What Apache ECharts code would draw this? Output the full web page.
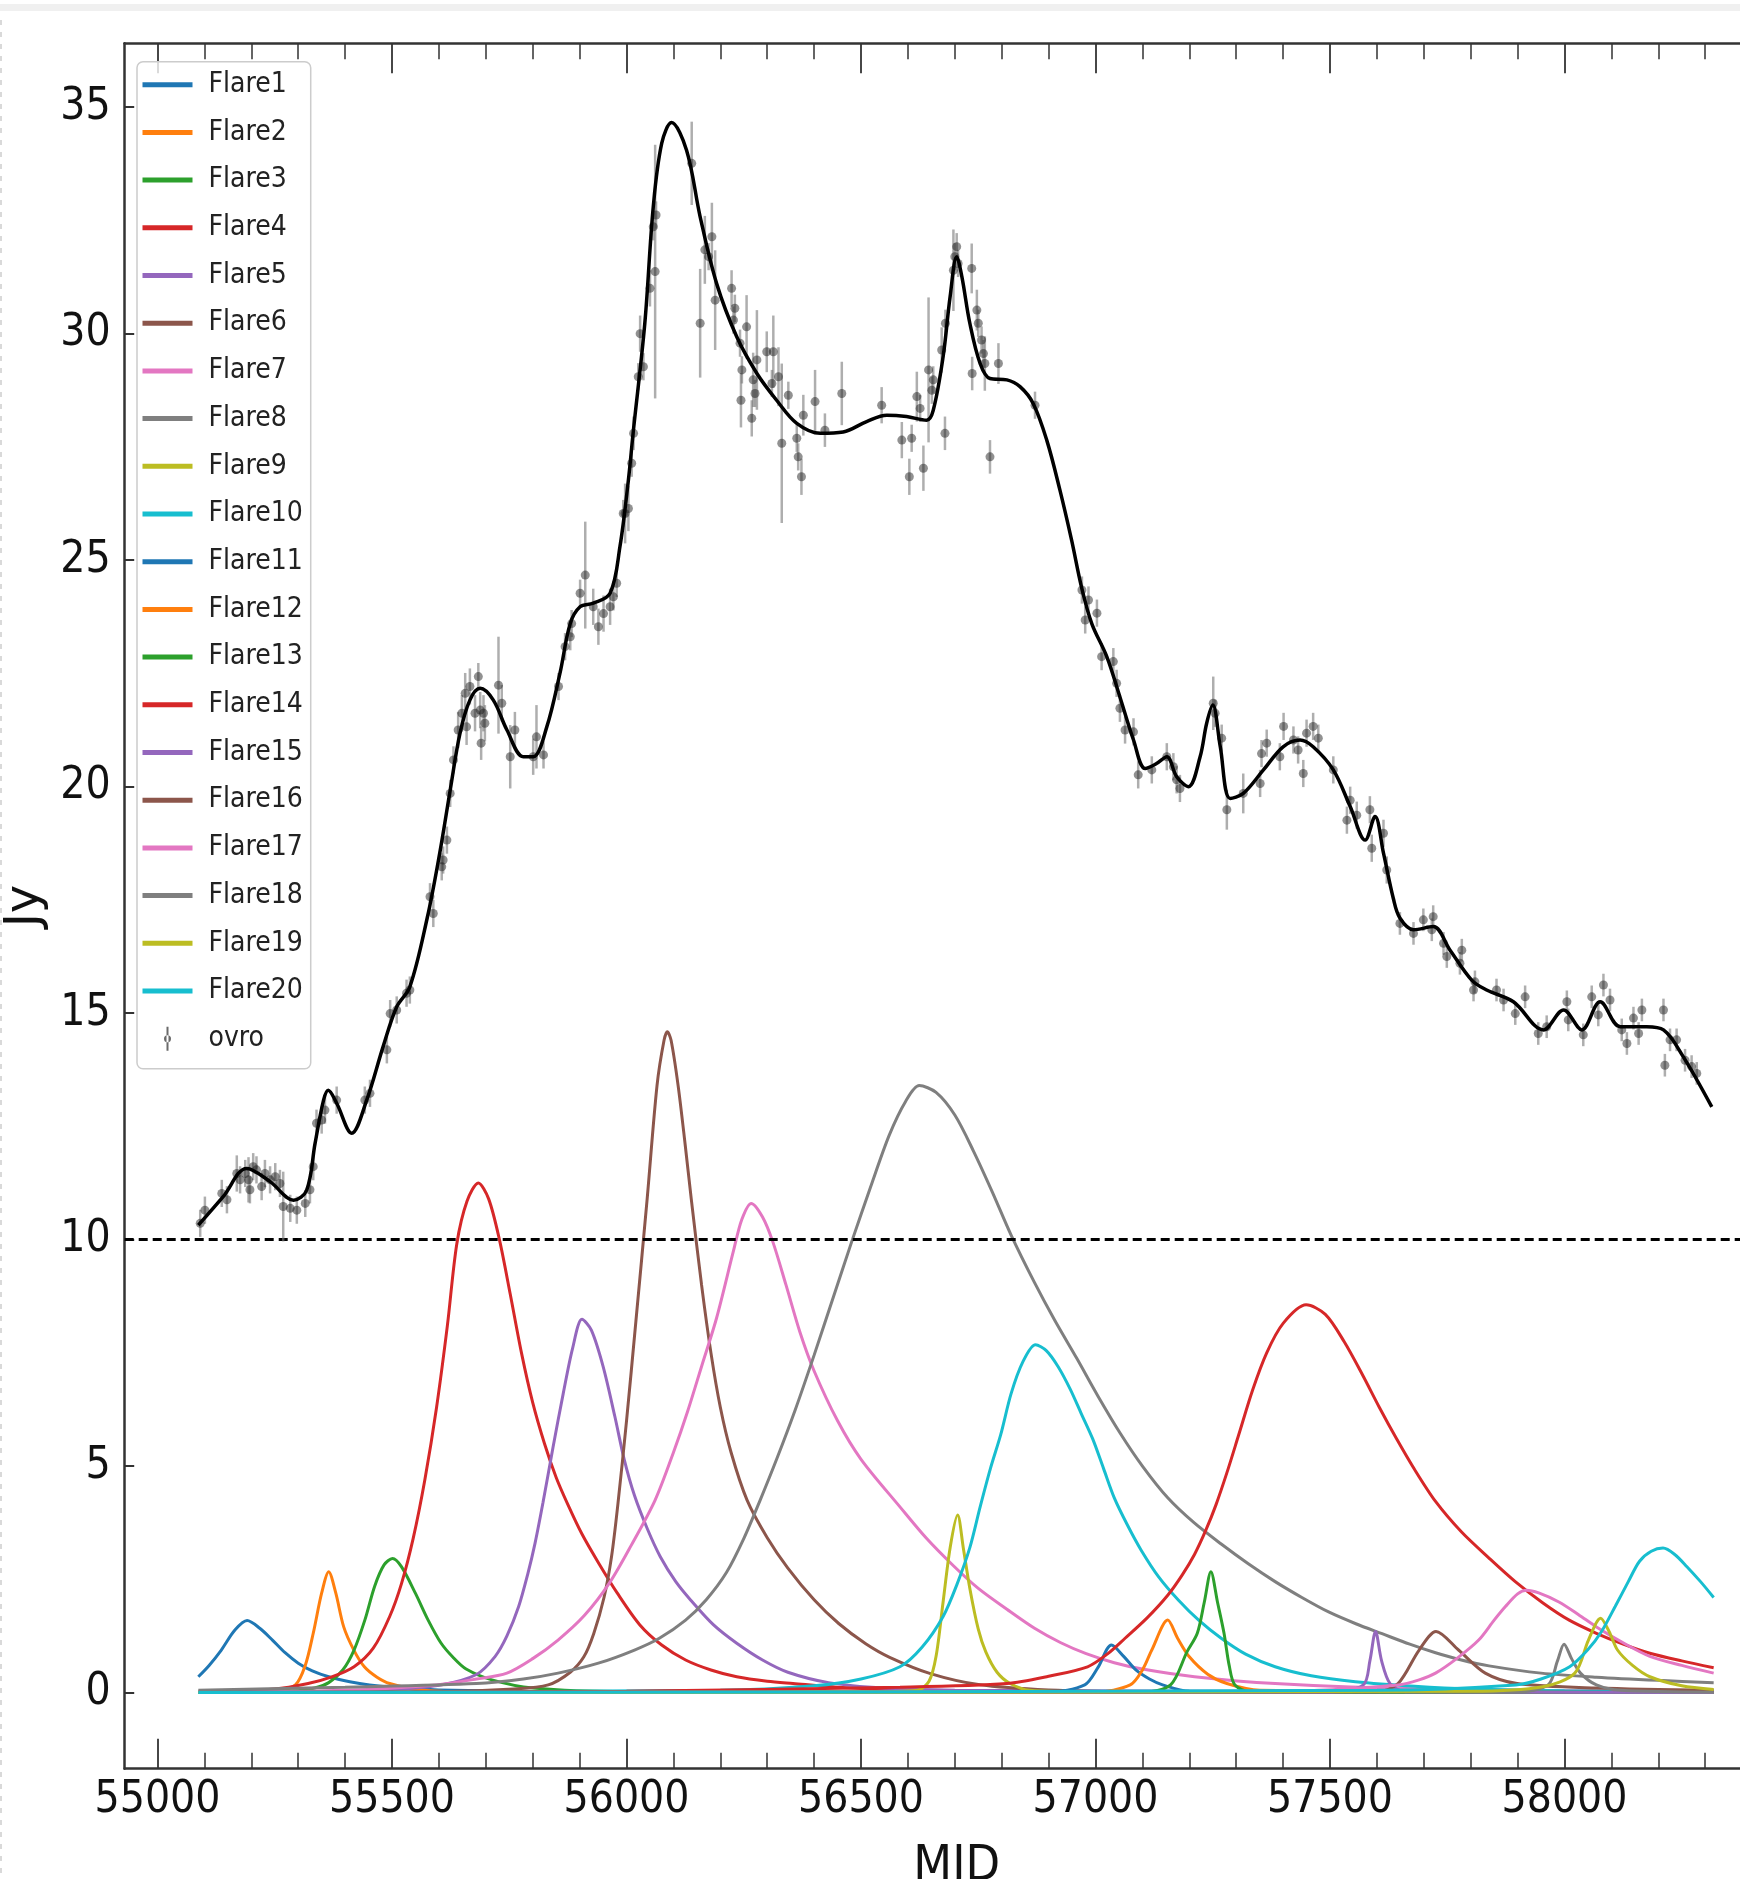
<!DOCTYPE html>
<html>
<head>
<meta charset="utf-8">
<script src="https://cdn.jsdelivr.net/npm/echarts@6/dist/echarts.min.js"></script>
<style>html,body{margin:0;padding:0;background:#fff}#c{width:1740px;height:1879px}</style>
</head>
<body>
<div id="c"></div>
<script>
// ---------------- data ----------------
const xMajorTicks = [55000, 55500, 56000, 56500, 57000, 57500, 58000];
const xMinorTicks = [55100,55200,55300,55400,55600,55700,55800,55900,56100,56200,56300,56400,56600,56700,56800,56900,
  57100,57200,57300,57400,57600,57700,57800,57900,58100,58200,58300,58400];
const yTicks = [0, 5, 10, 15, 20, 25, 30, 35];
const xRange = [54930, 58478];
const yRange = [-1.68, 36.41];
const thresholdLevel = 10;

const flareNames = ['Flare1','Flare2','Flare3','Flare4','Flare5','Flare6','Flare7','Flare8','Flare9','Flare10',
  'Flare11','Flare12','Flare13','Flare14','Flare15','Flare16','Flare17','Flare18','Flare19','Flare20'];
const flareColors = ['#1f77b4','#ff7f0e','#2ca02c','#d62728','#9467bd','#8c564b','#e377c2','#7f7f7f','#bcbd22','#17becf',
  '#1f77b4','#ff7f0e','#2ca02c','#d62728','#9467bd','#8c564b','#e377c2','#7f7f7f','#bcbd22','#17becf'];

const flare1 = [[55087,0.35],[55110,0.6],[55136,0.94],[55165,1.38],[55191,1.59],[55218,1.42],[55245,1.16],[55272,0.88],[55300,0.65],[55330,0.48],[55365,0.35],[55410,0.24],[55452,0.17],[55520,0.1],[55600,0.06],[56000,0.01],[58318,0]];
const flare2 = [[55087,0],[55250,0.03],[55294,0.17],[55315,0.6],[55332,1.31],[55350,2.2],[55365,2.67],[55380,2.2],[55397,1.45],[55418,0.95],[55441,0.57],[55468,0.34],[55495,0.2],[55560,0.06],[55700,0.01],[58318,0]];
const flare3 = [[55087,0],[55300,0.04],[55335,0.1],[55365,0.22],[55395,0.5],[55419,0.94],[55442,1.6],[55463,2.35],[55483,2.82],[55501,2.96],[55520,2.78],[55550,2.19],[55577,1.6],[55604,1.1],[55630,0.78],[55658,0.52],[55713,0.28],[55800,0.1],[56000,0.02],[58318,0]];
const flare4 = [[55087,0.02],[55250,0.08],[55321,0.2],[55370,0.34],[55419,0.57],[55460,0.98],[55495,1.68],[55520,2.4],[55545,3.4],[55570,4.7],[55595,6.3],[55618,8.1],[55638,9.9],[55660,10.85],[55684,11.25],[55706,10.9],[55729,10.0],[55752,8.8],[55776,7.5],[55800,6.4],[55825,5.5],[55850,4.75],[55875,4.15],[55905,3.5],[55941,2.85],[55980,2.2],[56028,1.5],[56075,1.05],[56126,0.72],[56180,0.5],[56235,0.35],[56300,0.25],[56355,0.2],[56450,0.12],[56600,0.06],[57000,0.01],[58318,0]];
const flare5 = [[55087,0],[55400,0.03],[55500,0.07],[55604,0.17],[55680,0.4],[55720,0.8],[55745,1.25],[55770,1.9],[55789,2.6],[55805,3.3],[55822,4.2],[55843,5.4],[55865,6.6],[55885,7.6],[55905,8.24],[55925,8.0],[55950,7.2],[55975,6.1],[55995,5.15],[56017,4.35],[56045,3.6],[56072,3.0],[56105,2.45],[56137,2.04],[56185,1.5],[56235,1.09],[56290,0.72],[56344,0.45],[56431,0.22],[56550,0.1],[56700,0.05],[58318,0]];
const flare6 = [[55087,0],[55600,0.02],[55760,0.08],[55833,0.17],[55880,0.45],[55909,0.79],[55930,1.3],[55952,2.1],[55968,3.0],[55982,4.2],[56000,6.0],[56020,8.2],[56044,10.9],[56065,13.4],[56080,14.4],[56087,14.59],[56095,14.4],[56110,13.4],[56125,12.1],[56138,10.9],[56160,9.0],[56180,7.5],[56200,6.3],[56223,5.3],[56257,4.25],[56300,3.42],[56344,2.75],[56400,2.05],[56453,1.52],[56510,1.08],[56561,0.78],[56648,0.42],[56750,0.18],[56900,0.06],[57100,0.02],[58318,0]];
const flare7 = [[55087,0],[55400,0.05],[55593,0.17],[55680,0.3],[55745,0.43],[55800,0.75],[55854,1.16],[55910,1.7],[55963,2.41],[56010,3.25],[56061,4.25],[56100,5.3],[56130,6.2],[56160,7.2],[56192,8.27],[56228,9.75],[56246,10.45],[56266,10.8],[56290,10.5],[56312,9.95],[56340,9.0],[56370,7.95],[56400,7.1],[56450,6.0],[56500,5.15],[56583,4.1],[56640,3.4],[56697,2.8],[56750,2.3],[56811,1.84],[56870,1.42],[56926,1.1],[56980,0.86],[57040,0.66],[57100,0.52],[57211,0.35],[57383,0.2],[57700,0.08],[58318,0.02]];
const flare8 = [[55087,0.05],[55400,0.12],[55680,0.2],[55780,0.3],[55854,0.43],[55940,0.65],[56017,0.94],[56070,1.2],[56126,1.6],[56170,2.05],[56213,2.65],[56250,3.4],[56285,4.25],[56320,5.15],[56360,6.25],[56400,7.45],[56440,8.7],[56480,9.95],[56520,11.15],[56560,12.3],[56595,13.05],[56624,13.4],[56660,13.25],[56700,12.75],[56740,11.95],[56780,11.05],[56820,10.1],[56870,9.05],[56913,8.22],[56960,7.38],[57005,6.55],[57053,5.72],[57100,5.0],[57154,4.3],[57210,3.75],[57268,3.28],[57325,2.85],[57383,2.45],[57440,2.1],[57497,1.78],[57555,1.52],[57611,1.3],[57670,1.07],[57725,0.88],[57780,0.72],[57839,0.59],[57950,0.43],[58068,0.34],[58200,0.27],[58318,0.22]];
const flare9 = [[55087,0],[56500,0.01],[56620,0.05],[56645,0.25],[56660,0.8],[56675,2.0],[56690,3.2],[56706,3.92],[56718,3.2],[56732,2.3],[56750,1.4],[56766,0.9],[56790,0.45],[56818,0.2],[56860,0.05],[57000,0.01],[58318,0]];
const flare10 = [[55087,0],[56200,0.05],[56400,0.15],[56500,0.3],[56583,0.57],[56630,1.0],[56675,1.68],[56705,2.4],[56732,3.2],[56754,4.1],[56776,4.95],[56798,5.7],[56820,6.6],[56845,7.3],[56872,7.68],[56895,7.55],[56920,7.2],[56946,6.7],[56970,6.15],[56994,5.6],[57017,4.95],[57040,4.3],[57068,3.7],[57097,3.15],[57135,2.55],[57177,2.04],[57220,1.6],[57268,1.2],[57320,0.85],[57383,0.57],[57460,0.37],[57554,0.24],[57680,0.14],[57800,0.08],[58000,0.04],[58318,0.02]];
const flare11 = [[55087,0],[56900,0.01],[56977,0.17],[57005,0.55],[57034,1.05],[57060,0.8],[57086,0.5],[57115,0.3],[57143,0.17],[57200,0.03],[58318,0]];
const flare12 = [[55087,0],[57000,0.01],[57074,0.17],[57100,0.5],[57120,0.94],[57154,1.6],[57175,1.2],[57200,0.79],[57240,0.4],[57280,0.2],[57350,0.05],[58318,0]];
const flare13 = [[55087,0],[57100,0.01],[57160,0.17],[57195,0.9],[57217,1.31],[57232,2.0],[57246,2.67],[57260,2.0],[57274,1.31],[57285,0.6],[57297,0.17],[57330,0.02],[58318,0]];
const flare14 = [[55087,0],[56000,0.03],[56583,0.12],[56811,0.2],[56900,0.36],[56983,0.57],[57025,0.85],[57063,1.2],[57110,1.65],[57154,2.15],[57185,2.6],[57211,3.05],[57235,3.58],[57257,4.15],[57280,4.85],[57305,5.68],[57335,6.68],[57365,7.5],[57400,8.15],[57449,8.56],[57490,8.35],[57530,7.75],[57570,7.0],[57605,6.3],[57641,5.62],[57680,4.93],[57725,4.22],[57780,3.55],[57839,2.97],[57895,2.45],[57954,1.98],[58010,1.6],[58068,1.31],[58125,1.07],[58182,0.87],[58250,0.7],[58318,0.55]];
const flare15 = [[55087,0],[57500,0.01],[57571,0.17],[57585,0.7],[57597,1.35],[57610,0.7],[57628,0.2],[57660,0.02],[58318,0]];
const flare16 = [[55087,0],[57600,0.02],[57645,0.2],[57690,0.94],[57726,1.35],[57774,0.94],[57831,0.43],[57899,0.2],[58068,0.1],[58318,0.05]];
const flare17 = [[55087,0],[57400,0.03],[57645,0.17],[57690,0.28],[57725,0.43],[57770,0.75],[57817,1.16],[57850,1.6],[57874,1.9],[57900,2.18],[57919,2.26],[57945,2.2],[57988,2.0],[58030,1.72],[58068,1.45],[58125,1.1],[58182,0.8],[58250,0.6],[58318,0.43]];
const flare18 = [[55087,0],[57900,0.02],[57965,0.17],[57985,0.7],[57999,1.07],[58015,0.75],[58034,0.43],[58068,0.17],[58120,0.05],[58318,0.01]];
const flare19 = [[55087,0],[57800,0.03],[57954,0.13],[58022,0.43],[58051,1.16],[58077,1.64],[58095,1.35],[58113,0.94],[58145,0.6],[58182,0.35],[58250,0.15],[58318,0.07]];
const flare20 = [[55087,0],[57600,0.05],[57896,0.17],[57950,0.3],[58011,0.57],[58050,0.95],[58079,1.35],[58108,1.9],[58136,2.45],[58160,2.9],[58185,3.12],[58210,3.19],[58235,3.05],[58261,2.78],[58290,2.45],[58318,2.1]];
const flareSeriesData = [flare1,flare2,flare3,flare4,flare5,flare6,flare7,flare8,flare9,flare10,
  flare11,flare12,flare13,flare14,flare15,flare16,flare17,flare18,flare19,flare20];

const modelCurve = [[55087,10.32],[55140,10.95],[55190,11.57],[55240,11.28],[55290,10.87],[55318,11.09],[55336,12.13],[55354,13.08],[55364,13.3],[55382,13.01],[55414,12.35],[55446,13.08],[55481,14.26],[55510,15.14],[55538,15.58],[55575,17.1],[55602,18.55],[55624,19.92],[55645,21.18],[55666,21.91],[55688,22.17],[55716,21.91],[55745,21.25],[55780,20.66],[55801,20.66],[55830,21.32],[55858,22.5],[55880,23.6],[55901,23.97],[55929,24.05],[55965,24.27],[55986,25.3],[56004,26.77],[56014,27.8],[56039,30.23],[56057,32.8],[56075,34.2],[56096,34.66],[56128,34.05],[56157,32.58],[56192,31.11],[56235,29.93],[56278,29.12],[56320,28.53],[56363,28.02],[56413,27.8],[56462,27.83],[56512,28.06],[56555,28.2],[56597,28.17],[56640,28.09],[56654,28.31],[56675,29.49],[56690,30.82],[56704,31.7],[56715,31.26],[56732,30.23],[56754,29.34],[56775,29.01],[56811,28.98],[56839,28.83],[56867,28.46],[56896,27.65],[56924,26.55],[56949,25.44],[56970,24.41],[56992,23.6],[57024,22.87],[57052,21.98],[57081,21.03],[57106,20.4],[57130,20.51],[57152,20.66],[57173,20.22],[57198,20.0],[57223,20.66],[57237,21.4],[57250,21.8],[57266,20.88],[57287,19.74],[57315,19.85],[57358,20.37],[57400,20.88],[57436,21.03],[57464,20.88],[57507,20.37],[57543,19.56],[57575,18.82],[57596,19.34],[57614,18.53],[57635,17.53],[57649,17.1],[57678,16.84],[57720,16.91],[57756,16.39],[57802,15.73],[57834,15.51],[57891,15.25],[57955,14.63],[57998,15.07],[58037,14.63],[58076,15.25],[58119,14.7],[58175,14.7],[58211,14.63],[58253,14.04],[58314,12.93]];

const ovroMjd = [55091,55101,55137,55148,55169,55176,55187,55194,55197,55204,55211,55222,55229,55240,55251,55261,55268,55283,55297,55315,55325,55332,55339,55350,55357,55382,55442,55453,55489,55496,55510,55531,55538,55581,55588,55606,
 55609,55617,55624,55631,55641,55649,55656,55659,55666,55677,55684,55688,55690,55695,55698,55727,55734,55752,55762,55801,55808,55823,55855,55869,55880,55883,55901,55912,55929,55940,55951,55965,55972,55979,55993,
 55997,56004,56011,56015,56025,56029,56036,56050,56057,56061,56063,56139,56157,56167,56175,56182,56189,56224,56228,56231,56242,56244,56246,56256,56267,56270,56274,56278,56299,56310,56313,56324,56331,56345,56363,56366,56373,56377,56402,56423,56459,56544,56587,56603,56608,56619,56626,56633,56644,56651,56654,56672,56679,56680,56697,56700,56704,56707,56736,56737,56747,56750,56757,56761,56764,56775,56793,
 56871,56971,56978,56985,57003,57013,57038,57045,57052,57063,57081,57091,57120,57152,57166,57173,57180,57251,57255,57269,57280,57315,57351,57354,57365,57393,57401,57422,57432,57443,57450,57464,57475,57507,57536,57543,57557,57585,57589,57614,57621,
 57649,57678,57699,57717,57720,57742,57749,57777,57781,57806,57809,57855,57870,57895,57916,57944,57962,58005,58008,58040,58058,58072,58083,58097,58122,58133,58147,58158,58165,58211,58214,58225,58239,58257,58271,58282];
const ovroFlux = [10.36,10.65,11.02,10.88,11.46,11.32,11.46,11.32,11.1,11.61,11.54,11.17,11.46,11.32,11.39,11.24,10.73,10.69,10.65,10.8,11.1,11.61,12.57,12.64,12.86,13.08,13.08,13.23,14.19,14.99,15.07,15.44,15.51,17.57,17.2,18.23,
 18.38,18.82,19.85,20.59,21.25,21.62,22.06,21.32,22.21,21.62,22.43,21.69,20.96,21.62,21.4,22.24,21.84,20.66,21.25,20.66,21.1,20.7,22.21,23.09,23.31,23.6,24.27,24.67,23.97,23.53,23.82,23.97,24.19,24.49,26.03,
 26.03,26.14,27.14,27.8,29.05,30.0,29.27,31.0,32.36,31.37,32.62,33.76,30.23,31.85,31.7,32.14,30.74,31.0,30.3,30.56,29.79,28.53,29.2,30.15,28.13,28.98,28.68,29.42,29.6,28.9,29.6,29.05,27.58,28.64,27.69,27.28,26.84,28.2,28.5,27.87,28.68,28.42,27.65,26.84,27.69,28.61,28.35,27.03,29.2,28.75,28.98,29.64,27.8,30.23,31.4,31.7,31.92,31.55,31.44,29.12,30.52,30.23,29.86,29.56,29.34,27.28,29.34,
 28.42,24.34,23.68,24.12,23.83,22.87,22.76,22.28,21.73,21.25,21.21,20.26,20.37,20.66,20.44,20.15,19.96,21.84,21.62,21.07,19.49,19.85,20.07,20.73,20.96,20.66,21.33,21.03,20.81,20.29,21.18,21.33,21.07,20.37,19.26,19.7,19.37,19.49,18.64,18.97,18.16,
 16.98,16.76,17.06,16.84,17.13,16.54,16.25,16.1,16.39,15.51,15.69,15.51,15.29,14.99,15.36,14.55,14.7,15.25,14.85,14.52,15.36,14.96,15.62,15.29,14.63,14.33,14.89,14.55,15.07,15.07,13.85,14.41,14.41,13.96,13.82,13.67];
const ovroErr = [0.3,0.3,0.3,0.3,0.4,0.3,0.3,0.5,0.3,0.3,0.3,0.3,0.3,0.3,0.3,0.3,0.77,0.3,0.3,0.3,0.3,0.3,0.3,0.3,0.3,0.3,0.3,0.3,0.3,0.3,0.3,0.3,0.3,0.3,0.3,0.3,
 0.3,0.3,0.3,0.3,0.4,0.4,0.45,0.4,0.4,0.4,0.3,0.4,0.37,0.4,0.4,1.07,0.4,0.7,0.4,0.4,0.7,0.3,0.3,0.3,0.3,0.3,0.3,1.18,0.4,0.4,0.4,0.4,0.3,0.3,0.3,
 0.66,0.5,0.3,0.37,0.3,0.4,0.3,0.4,0.3,2.8,0.3,0.92,1.2,0.75,0.3,0.75,1.1,0.4,0.3,0.3,0.3,0.6,0.3,0.7,0.4,0.6,0.3,1.1,0.45,0.3,0.8,0.65,1.76,0.3,0.3,0.3,0.4,0.45,0.7,0.37,0.7,0.4,0.4,0.4,0.3,0.55,0.3,0.5,1.6,0.3,0.3,0.5,0.37,0.3,0.9,0.3,0.3,0.3,0.55,0.37,0.45,0.3,0.3,0.3,0.6,0.37,0.45,
 0.3,0.3,0.3,0.3,0.3,0.3,0.3,0.3,0.3,0.3,0.3,0.3,0.3,0.3,0.3,0.3,0.3,0.59,0.3,0.3,0.44,0.44,0.3,0.3,0.3,0.3,0.3,0.3,0.3,0.3,0.3,0.3,0.3,0.3,0.3,0.3,0.3,0.3,0.3,0.3,0.3,
 0.25,0.25,0.25,0.25,0.25,0.25,0.25,0.25,0.25,0.25,0.25,0.25,0.25,0.25,0.25,0.25,0.25,0.25,0.25,0.25,0.25,0.25,0.25,0.25,0.25,0.25,0.25,0.25,0.25,0.25,0.25,0.25,0.25,0.25,0.25,0.25];

// ---------------- chart ----------------
const FONT = "'Liberation Sans Narrow','DejaVu Sans Condensed','Liberation Sans','DejaVu Sans',sans-serif";
const AXIS_COLOR = '#333';
const chart = echarts.init(document.getElementById('c'), null, {renderer: 'canvas', width: 1740, height: 1879});

const ovroData = ovroMjd.map((m, i) => [m, ovroFlux[i], ovroErr[i]]);
const lineIcon = 'path://M0,0 L50,0 L50,5 L0,5 Z';
const ovroIcon = 'path://M3,0 L5,0 L5,24 L3,24 Z M0.5,12 A3.5,3.5 0 1 0 7.5,12 A3.5,3.5 0 1 0 0.5,12 Z';
const plainNumber = v => String(v);

const flareSeries = flareNames.map((name, i) => ({
  name: name,
  type: 'line',
  data: flareSeriesData[i],
  showSymbol: false,
  symbol: 'none',
  smooth: 0.3,
  color: flareColors[i],
  lineStyle: {width: 3, color: flareColors[i]},
  z: 2,
  silent: true
}));

function baseX(extra) {
  return Object.assign({
    type: 'value', gridIndex: 0, min: xRange[0], max: xRange[1],
    splitLine: {show: false}, axisPointer: {show: false}
  }, extra);
}

const option = {
  animation: false,
  backgroundColor: '#ffffff',
  grid: {left: 124.7, top: 43.3, width: 1664, height: 1725.4, containLabel: false, outerBoundsMode: 'none'},
  xAxis: [
    baseX({
      position: 'bottom',
      name: 'MJD', nameLocation: 'middle', nameGap: 73,
      nameTextStyle: {fontFamily: FONT, fontSize: 50, color: '#111'},
      axisLine: {show: true, onZero: false, lineStyle: {color: AXIS_COLOR, width: 2.5}},
      axisTick: {show: true, inside: true, length: 30, customValues: xMajorTicks, lineStyle: {color: AXIS_COLOR, width: 1.8}},
      axisLabel: {show: true, customValues: xMajorTicks, formatter: plainNumber, margin: 10, fontFamily: FONT, fontSize: 44, color: '#111'}
    }),
    baseX({
      position: 'bottom',
      axisLine: {show: false, onZero: false},
      axisTick: {show: true, inside: true, length: 16, customValues: xMinorTicks, lineStyle: {color: AXIS_COLOR, width: 1.5}},
      axisLabel: {show: false}
    }),
    baseX({
      position: 'top',
      axisLine: {show: true, onZero: false, lineStyle: {color: AXIS_COLOR, width: 2.5}},
      axisTick: {show: true, inside: true, length: 30, customValues: xMajorTicks, lineStyle: {color: AXIS_COLOR, width: 1.8}},
      axisLabel: {show: false}
    }),
    baseX({
      position: 'top',
      axisLine: {show: false, onZero: false},
      axisTick: {show: true, inside: true, length: 16, customValues: xMinorTicks, lineStyle: {color: AXIS_COLOR, width: 1.5}},
      axisLabel: {show: false}
    })
  ],
  yAxis: [{
    type: 'value', min: yRange[0], max: yRange[1], position: 'left',
    name: 'Jy', nameLocation: 'middle', nameRotate: 90, nameGap: 36,
    nameTextStyle: {fontFamily: "'DejaVu Sans',sans-serif", fontSize: 48, color: '#111'},
    splitLine: {show: false},
    axisLine: {show: true, onZero: false, lineStyle: {color: AXIS_COLOR, width: 2.5}},
    axisTick: {show: true, inside: true, length: 9.5, customValues: yTicks, lineStyle: {color: AXIS_COLOR, width: 2}},
    axisLabel: {show: true, customValues: yTicks, formatter: plainNumber, margin: 14, fontFamily: FONT, fontSize: 44, color: '#111'}
  }],
  legend: {
    orient: 'vertical', left: 137, top: 61.7,
    itemWidth: 50, itemHeight: 24, itemGap: 15.7,
    padding: [7, 8, 14, 5.5],
    backgroundColor: 'rgba(255,255,255,0.8)',
    borderColor: '#cccccc', borderWidth: 1.5, borderRadius: 6,
    selectedMode: false,
    itemStyle: {borderWidth: 0},
    textStyle: {fontFamily: FONT, fontSize: 28, color: '#222', lineHeight: 32, padding: [0, 0, 0, 11]},
    data: flareNames.map(n => ({name: n, icon: lineIcon})).concat([{name: 'ovro', icon: ovroIcon, itemStyle: {color: '#6a6a6a', borderWidth: 0}}])
  },
  graphic: [
    {type: 'rect', shape: {x: 0, y: 4, width: 1740, height: 7}, style: {fill: '#f0f0f0'}, silent: true, z: -10},
    {type: 'line', shape: {x1: 1, y1: 20, x2: 1, y2: 1879}, style: {stroke: '#d9d9d9', lineWidth: 2, lineDash: [5, 7]}, silent: true, z: -10}
  ],
  series: flareSeries.concat([
    {
      name: 'ovro', type: 'custom', coordinateSystem: 'cartesian2d', xAxisIndex: 0, yAxisIndex: 0,
      data: ovroData, encode: {x: 0, y: 1}, silent: true, z: 5, color: '#6a6a6a',
      renderItem: function (params, api) {
        const x = api.value(0), y = api.value(1), e = api.value(2);
        const p1 = api.coord([x, y - e]);
        const p2 = api.coord([x, y + e]);
        return {type: 'line', shape: {x1: p1[0], y1: p1[1], x2: p2[0], y2: p2[1]},
          style: {stroke: 'rgba(120,120,120,0.6)', lineWidth: 2.5}};
      }
    },
    {
      name: 'ovro', type: 'scatter', data: ovroData.map(d => [d[0], d[1]]),
      symbol: 'circle', symbolSize: 9, silent: true, z: 6,
      itemStyle: {color: 'rgba(25,25,25,0.6)'}
    },
    {
      name: 'model', type: 'line', data: modelCurve, showSymbol: false, symbol: 'none',
      smooth: 0.35, silent: true, z: 8, color: '#000',
      lineStyle: {width: 3.5, color: '#000'},
      markLine: {
        silent: true, symbol: ['none', 'none'], label: {show: false},
        lineStyle: {color: '#000', type: [9, 5], width: 3},
        data: [{yAxis: thresholdLevel}]
      }
    }
  ])
};
chart.setOption(option);
</script>
</body>
</html>
